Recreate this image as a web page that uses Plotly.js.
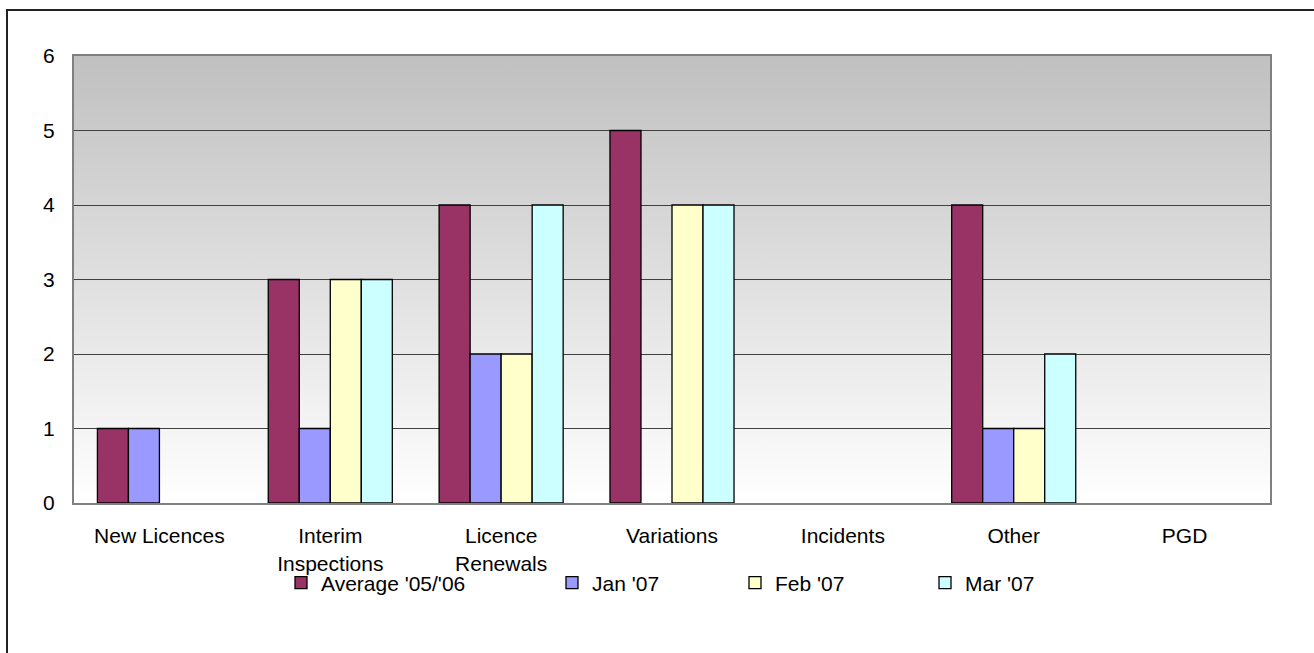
<!DOCTYPE html>
<html>
<head>
<meta charset="utf-8">
<script src="https://cdn.plot.ly/plotly-3.0.1.min.js"></script>
<style>
  html, body { margin: 0; padding: 0; width: 1314px; height: 653px; overflow: hidden; background: #fff; }
  #chart { position: absolute; left: 0; top: 0; width: 1314px; height: 653px; }
  #frame { position: absolute; left: 6px; top: 9px; width: 1400px; height: 800px; border: 2px solid #222; pointer-events: none; }
</style>
</head>
<body>
<div id="chart"></div>
<div id="frame"></div>
<script>
const categories = ['New Licences', 'Interim<br>Inspections', 'Licence<br>Renewals', 'Variations', 'Incidents', 'Other', 'PGD'];
const seriesNames = ["Average '05/'06", "Jan '07", "Feb '07", "Mar '07"];
const avg0506 = [1, 3, 4, 5, 0, 4, 0];
const jan07   = [1, 1, 2, 0, 0, 1, 0];
const feb07   = [0, 3, 2, 4, 0, 1, 0];
const mar07   = [0, 3, 4, 4, 0, 2, 0];
const yTicks  = [0, 1, 2, 3, 4, 5, 6];

const colors = ['#993366', '#9999ff', '#ffffcc', '#ccffff'];
const values = [avg0506, jan07, feb07, mar07];
const legendIds = ['legend', 'legend2', 'legend3', 'legend4'];

const FONT = 'Liberation Sans, Arial, sans-serif';
const FS = 21;

const traces = values.map((v, i) => ({
  type: 'bar',
  name: seriesNames[i],
  x: categories,
  // zero values are not drawn as (outlined) bars, as in the source chart
  y: v.map(val => (val === 0 ? null : val)),
  customdata: v,
  marker: { color: colors[i], line: { color: '#000', width: 1.3 } },
  legend: legendIds[i],
  hovertemplate: '%{x}: %{customdata}<extra>' + seriesNames[i] + '</extra>'
}));

// legend positions (px of legend left edge) -> paper
const plotL = 74, plotW = 1196;
const legendX = [281, 552, 735, 925].map(px => (px - plotL) / plotW);
const legendY = (503 - 583) / 447;

const gradSvg = "<svg xmlns='http://www.w3.org/2000/svg' width='100' height='100' preserveAspectRatio='none'>" +
  "<defs><linearGradient id='g' x1='0' y1='0' x2='0' y2='1'>" +
  "<stop offset='0' stop-color='#c0c0c0'/><stop offset='1' stop-color='#ffffff'/></linearGradient></defs>" +
  "<rect width='100' height='100' fill='url(#g)'/></svg>";

const legendBase = {
  orientation: 'h',
  yanchor: 'middle',
  xanchor: 'left',
  y: legendY,
  bgcolor: 'rgba(0,0,0,0)',
  font: { family: FONT, size: FS, color: '#000' },
  itemclick: false,
  itemdoubleclick: false
};

const layout = {
  width: 1314,
  height: 653,
  margin: { l: 74, r: 44, t: 56, b: 150 },
  paper_bgcolor: 'rgba(0,0,0,0)',
  plot_bgcolor: 'rgba(0,0,0,0)',
  barmode: 'group',
  bargap: 0.274,
  bargroupgap: 0,
  font: { family: FONT, size: FS, color: '#000' },
  showlegend: true,
  xaxis: {
    type: 'category',
    showline: true, mirror: true, linecolor: '#808080', linewidth: 2,
    showgrid: false, zeroline: false,
    ticks: '', ticklabelstandoff: 13,
    tickfont: { family: FONT, size: FS, color: '#000' }
  },
  yaxis: {
    range: [0, 6],
    tickvals: yTicks,
    ticktext: yTicks.map(String),
    showline: true, mirror: true, linecolor: '#808080', linewidth: 2,
    showgrid: true, gridcolor: '#404040', gridwidth: 1,
    zeroline: false,
    ticks: '', ticklabelstandoff: 13,
    tickfont: { family: FONT, size: FS, color: '#000' }
  },
  images: [{
    source: 'data:image/svg+xml;charset=utf-8,' + encodeURIComponent(gradSvg),
    xref: 'paper', yref: 'paper', x: 0, y: 1, sizex: 1, sizey: 1,
    xanchor: 'left', yanchor: 'top', sizing: 'stretch', layer: 'below'
  }],
  legend:  Object.assign({}, legendBase, { x: legendX[0] }),
  legend2: Object.assign({}, legendBase, { x: legendX[1] }),
  legend3: Object.assign({}, legendBase, { x: legendX[2] }),
  legend4: Object.assign({}, legendBase, { x: legendX[3] })
};

Plotly.newPlot('chart', traces, layout, { displayModeBar: false });
</script>
</body>
</html>
